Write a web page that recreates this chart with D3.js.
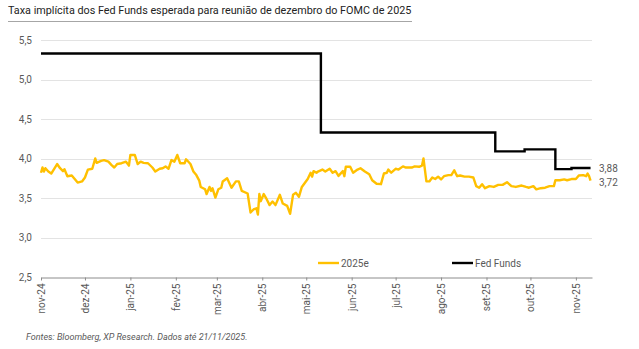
<!DOCTYPE html>
<html><head><meta charset="utf-8">
<script src="https://cdn.jsdelivr.net/npm/d3@7"></script>
<style>
body{margin:0;background:#fff;}
svg{display:block;font-family:Roboto,"Noto Sans",sans-serif;}
</style></head><body>
<svg id="c" width="639" height="349"></svg>
<script>
const title = "Taxa implícita dos Fed Funds esperada para reunião de dezembro do FOMC de 2025";
const source = "Fontes: Bloomberg, XP Research. Dados até 21/11/2025.";
const seriesNames = ["2025e", "Fed Funds"];
const yTicks = [2.5, 3.0, 3.5, 4.0, 4.5, 5.0, 5.5];
const monthLabels = ["jan","fev","mar","abr","mai","jun","jul","ago","set","out","nov","dez"];

const exp2025 = [
["2024-11-01",3.82],["2024-11-02",3.886],["2024-11-03",3.835],["2024-11-04",3.877],["2024-11-06",3.835],
["2024-11-08",3.81],["2024-11-12",3.93],["2024-11-14",3.877],["2024-11-16",3.84],["2024-11-17",3.865],
["2024-11-19",3.776],["2024-11-22",3.785],["2024-11-24",3.74],["2024-11-26",3.695],["2024-11-29",3.71],
["2024-12-01",3.76],["2024-12-03",3.86],["2024-12-06",3.87],["2024-12-08",4.0],["2024-12-09",3.945],
["2024-12-12",3.97],["2024-12-14",3.98],["2024-12-17",3.96],["2024-12-19",3.92],["2024-12-21",3.886],
["2024-12-23",3.93],["2024-12-26",3.94],["2024-12-29",3.96],["2024-12-31",3.91],["2025-01-01",4.045],
["2025-01-04",4.045],["2025-01-06",3.93],["2025-01-08",3.96],["2025-01-10",3.945],["2025-01-13",3.94],
["2025-01-16",3.886],["2025-01-18",3.835],["2025-01-21",3.87],["2025-01-23",3.877],["2025-01-25",3.90],
["2025-01-27",3.87],["2025-01-29",3.98],["2025-01-31",3.96],["2025-02-02",4.045],["2025-02-04",3.94],
["2025-02-07",3.94],["2025-02-08",3.99],["2025-02-11",3.93],["2025-02-13",3.835],["2025-02-15",3.79],
["2025-02-17",3.72],["2025-02-18",3.64],["2025-02-21",3.61],["2025-02-22",3.55],["2025-02-24",3.64],
["2025-02-25",3.59],["2025-02-26",3.624],["2025-02-28",3.506],["2025-03-02",3.61],["2025-03-04",3.63],
["2025-03-05",3.71],["2025-03-08",3.75],["2025-03-11",3.63],["2025-03-14",3.71],["2025-03-16",3.71],
["2025-03-18",3.59],["2025-03-22",3.557],["2025-03-24",3.316],["2025-03-26",3.355],["2025-03-28",3.37],
["2025-03-29",3.29],["2025-03-30",3.55],["2025-03-31",3.46],["2025-04-02",3.55],["2025-04-04",3.485],
["2025-04-06",3.41],["2025-04-08",3.455],["2025-04-10",3.41],["2025-04-13",3.54],["2025-04-15",3.43],
["2025-04-18",3.40],["2025-04-20",3.30],["2025-04-22",3.54],["2025-04-24",3.565],["2025-04-26",3.515],
["2025-04-28",3.64],["2025-05-02",3.74],["2025-05-04",3.82],["2025-05-05",3.77],["2025-05-06",3.84],
["2025-05-08",3.82],["2025-05-09",3.835],["2025-05-12",3.86],["2025-05-14",3.835],["2025-05-17",3.87],
["2025-05-19",3.82],["2025-05-21",3.84],["2025-05-23",3.78],["2025-05-26",3.84],["2025-05-27",3.776],
["2025-05-28",3.895],["2025-05-31",3.895],["2025-06-02",3.82],["2025-06-05",3.86],["2025-06-07",3.877],
["2025-06-10",3.835],["2025-06-13",3.80],["2025-06-15",3.725],["2025-06-18",3.68],["2025-06-21",3.675],
["2025-06-23",3.81],["2025-06-25",3.82],["2025-06-26",3.86],["2025-06-28",3.82],["2025-07-01",3.87],
["2025-07-03",3.86],["2025-07-06",3.90],["2025-07-08",3.886],["2025-07-12",3.886],["2025-07-14",3.90],
["2025-07-17",3.895],["2025-07-19",3.91],["2025-07-20",4.0],["2025-07-22",3.71],["2025-07-24",3.71],
["2025-07-26",3.76],["2025-07-28",3.74],["2025-07-30",3.77],["2025-08-01",3.735],["2025-08-03",3.776],
["2025-08-06",3.79],["2025-08-08",3.79],["2025-08-10",3.85],["2025-08-12",3.776],["2025-08-14",3.785],
["2025-08-17",3.77],["2025-08-20",3.77],["2025-08-23",3.76],["2025-08-25",3.65],["2025-08-27",3.63],
["2025-08-29",3.675],["2025-08-31",3.624],["2025-09-03",3.65],["2025-09-06",3.64],["2025-09-09",3.666],
["2025-09-12",3.666],["2025-09-15",3.70],["2025-09-18",3.65],["2025-09-21",3.64],["2025-09-25",3.658],
["2025-09-28",3.64],["2025-09-30",3.63],["2025-10-03",3.65],["2025-10-05",3.61],["2025-10-08",3.624],
["2025-10-11",3.63],["2025-10-14",3.65],["2025-10-17",3.65],["2025-10-18",3.725],["2025-10-21",3.725],
["2025-10-24",3.735],["2025-10-26",3.725],["2025-10-29",3.74],["2025-11-01",3.74],["2025-11-03",3.785],
["2025-11-06",3.79],["2025-11-08",3.776],["2025-11-09",3.81],["2025-11-10",3.776],["2025-11-11",3.72]
];
const fedFunds = [
["2024-11-01",5.33],["2025-05-11",4.33],["2025-09-07",4.09],["2025-09-27",4.115],
["2025-10-18",3.865],["2025-10-29",3.88],["2025-11-11",3.88]
];
const endLabels = ["3,88","3,72"];

const parse = d3.timeParse("%Y-%m-%d");
const A = exp2025.map(d => ({date: parse(d[0]), v: d[1]}));
const F = fedFunds.map(d => ({date: parse(d[0]), v: d[1]}));

const svg = d3.select("#c");
const L = 41, R = 592, T = 40, B = 277;
const x = d3.scaleTime().domain([parse("2024-11-01"), parse("2025-11-12")]).range([L, R]);
const y = d3.scaleLinear().domain([2.5, 5.5]).range([B, T]);
const gray = "#595959";

// title
svg.append("text").attr("x", 8).attr("y", 14).attr("font-size", 10.8).attr("fill", "#222").text(title);
svg.append("line").attr("x1", 8).attr("x2", 412).attr("y1", 21.5).attr("y2", 21.5).attr("stroke", "#a6a6a6").attr("stroke-width", 1);

// gridlines
svg.append("g").selectAll("line").data(yTicks.filter(t => t > 2.5)).join("line")
  .attr("x1", L).attr("x2", R).attr("y1", d => Math.round(y(d)) + 0.5).attr("y2", d => Math.round(y(d)) + 0.5)
  .attr("stroke", "#e3e3e3").attr("stroke-width", 1);

// y axis labels
const yAxis = d3.axisLeft(y).tickValues(yTicks).tickSize(0).tickPadding(9)
  .tickFormat(d => d3.format(".1f")(d).replace(".", ","));
const gy = svg.append("g").attr("transform", `translate(${L},0)`).call(yAxis);
gy.select(".domain").remove();
gy.selectAll("text").attr("font-size", 10).attr("fill", gray).attr("font-family", "Roboto,sans-serif");

// x axis
const months = d3.timeMonth.range(parse("2024-11-01"), parse("2025-11-12"));
const xAxis = d3.axisBottom(x).tickValues(months).tickSize(3).tickSizeOuter(0)
  .tickFormat(d => monthLabels[d.getMonth()] + "-" + String(d.getFullYear()).slice(2));
const gx = svg.append("g").attr("transform", `translate(0,${B + 0.5})`).call(xAxis);
gx.select(".domain").attr("stroke", "#8c8c8c");
gx.selectAll(".tick line").attr("stroke", "#8c8c8c");
gx.selectAll("text").attr("font-size", 10).attr("fill", gray).attr("font-family", "Roboto,sans-serif")
  .attr("transform", "rotate(-90)").attr("text-anchor", "end").attr("x", -6).attr("y", 0).attr("dy", "0.35em");

// lines
const line = d3.line().x(d => x(d.date)).y(d => y(d.v));
svg.append("path").datum(A).attr("d", line).attr("fill", "none").attr("stroke", "#FFC000")
  .attr("stroke-width", 2.4).attr("stroke-linejoin", "round");
svg.append("path").datum(F).attr("d", d3.line().x(d => x(d.date)).y(d => y(d.v)).curve(d3.curveStepAfter))
  .attr("fill", "none").attr("stroke", "#000").attr("stroke-width", 2.4);

// end labels
const lastF = F[F.length - 1], lastA = A[A.length - 1];
svg.append("text").attr("x", 599).attr("y", y(lastF.v) + 0.5).attr("dy", "0.35em").attr("font-size", 10).attr("fill", gray).text(endLabels[0]);
svg.append("text").attr("x", 599).attr("y", y(lastA.v) + 1.5).attr("dy", "0.35em").attr("font-size", 10).attr("fill", gray).text(endLabels[1]);

// legend
const leg = [{name: seriesNames[0], c: "#FFC000", x: 318}, {name: seriesNames[1], c: "#000", x: 452}];
const lg = svg.append("g").selectAll("g").data(leg).join("g").attr("transform", d => `translate(${d.x},263)`);
lg.append("line").attr("x1", 0).attr("x2", 21).attr("stroke", d => d.c).attr("stroke-width", 2.4);
lg.append("text").attr("x", 23).attr("dy", "0.35em").attr("font-size", 10).attr("fill", gray).text(d => d.name);

// source
svg.append("text").attr("x", 26).attr("y", 340).attr("font-size", 9).attr("font-style", "italic").attr("fill", gray).text(source);
</script></body></html>
